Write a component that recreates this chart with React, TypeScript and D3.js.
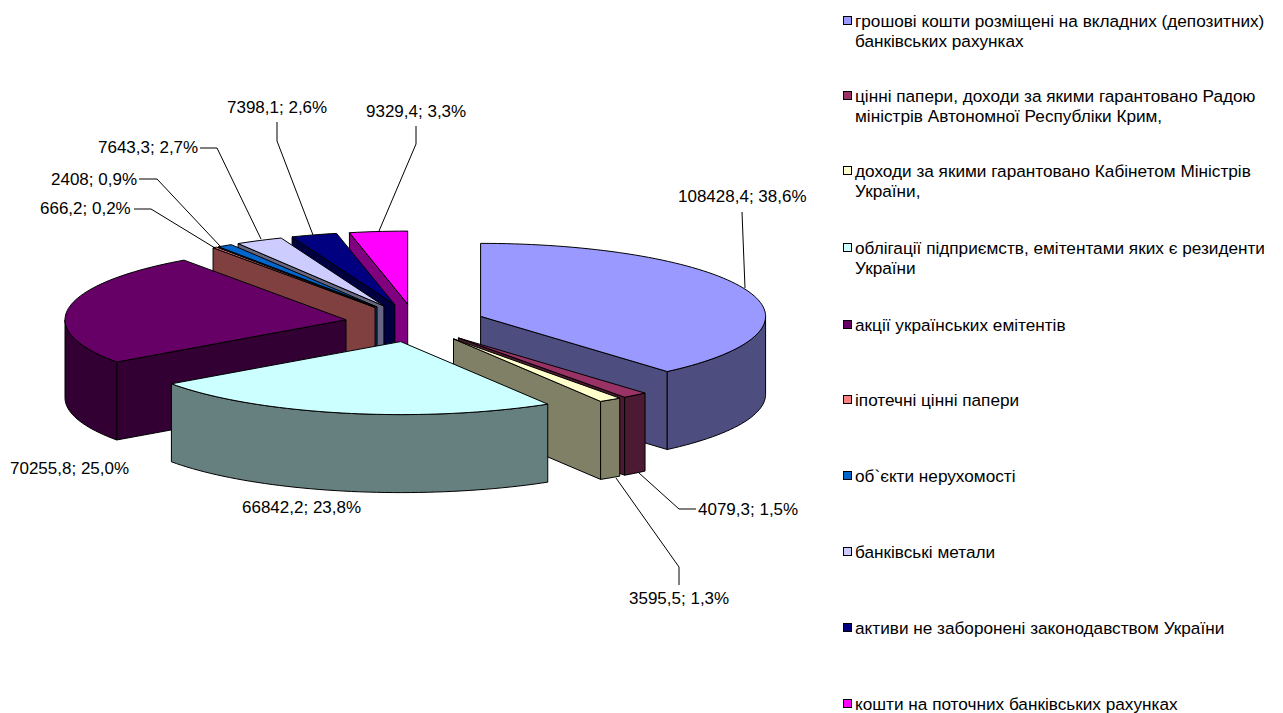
import React from 'react';
import * as d3 from 'd3';

const names = [
  'грошові кошти розміщені на вкладних (депозитних)|банківських рахунках',
  'цінні папери, доходи за якими гарантовано Радою|міністрів Автономної Республіки Крим,',
  'доходи за якими гарантовано Кабінетом Міністрів|України,',
  'облігації підприємств, емітентами яких є резиденти|України',
  'акції українських емітентів',
  'іпотечні цінні папери',
  'об`єкти нерухомості',
  'банківські метали',
  'активи не заборонені законодавством України',
  'кошти на поточних банківських рахунках',
];
const values = [108428.4, 4079.3, 3595.5, 66842.2, 70255.8, 666.2, 2408, 7643.3, 7398.1, 9329.4];
const valueLabels = ['108428,4', '4079,3', '3595,5', '66842,2', '70255,8', '666,2', '2408', '7643,3', '7398,1', '9329,4'];
const percentLabels = ['38,6%', '1,5%', '1,3%', '23,8%', '25,0%', '0,2%', '0,9%', '2,7%', '2,6%', '3,3%'];
const topColors = ['#9999FF', '#993366', '#FFFFCC', '#CCFFFF', '#660066', '#FF8080', '#0066CC', '#CCCCFF', '#000080', '#FF00FF'];
const wallColors = ['#4D4D80', '#4D1A33', '#808066', '#668080', '#330033', '#804040', '#003366', '#666680', '#000040', '#800080'];
const drawOrder = [9, 8, 7, 6, 5, 4, 0, 1, 2, 3];

// label layout
const labelX = [678, 698, 629, 242, 10, 40, 51, 98, 227, 366];
const labelY = [196, 509, 598, 507, 468, 208, 179, 147, 107, 111];
const leaders: (number[][] | null)[] = [
  [[742, 212], [745, 288]],
  [[696, 509], [679, 509], [639, 473]],
  [[679, 585], [679, 567], [616, 478]],
  null,
  null,
  [[134, 209], [151, 209], [215, 248]],
  [[139, 179], [157, 179], [220, 246]],
  [[200, 148], [217, 148], [261, 239]],
  [[277, 122], [277, 141], [313, 235]],
  [[416, 126], [416, 144], [379, 231]],
];
const legendTextY = [21, 96, 171, 248, 325, 400, 476, 552, 628, 704];

const W = 1283, H = 713;
const cx = 415, cy = 323, rxRight = 285, rxLeft = 281, ry = 73, depth = 78, explodeX = 70, explodeY = 19;
const FONT = '"Liberation Sans", Arial, sans-serif';

const arcs = d3.pie<number>().sort(null).startAngle(0).endAngle(2 * Math.PI)(values);
const line = d3.line<[number, number]>();

function rim(apex: [number, number], a: number, dy = 0): [number, number] {
  const s = Math.sin(a);
  return [apex[0] + (s >= 0 ? rxRight : rxLeft) * s, apex[1] - ry * Math.cos(a) + dy];
}

function outline(apex: [number, number], a0: number, a1: number, dy = 0): [number, number][] {
  const n = Math.max(2, Math.ceil((a1 - a0) / 0.03));
  return d3.range(n + 1).map((i) => rim(apex, a0 + ((a1 - a0) * i) / n, dy));
}

function quad(apex: [number, number], a: number): string {
  const p = rim(apex, a);
  return line([apex, p, [p[0], p[1] + depth], [apex[0], apex[1] + depth]])! + 'Z';
}

function Slice({ i }: { i: number }) {
  const { startAngle: a0, endAngle: a1 } = arcs[i];
  const mid = (a0 + a1) / 2;
  const apex: [number, number] = [cx + explodeX * Math.sin(mid), cy - explodeY * Math.cos(mid)];
  const common = { stroke: '#000', strokeWidth: 1, strokeLinejoin: 'round' as const };
  const f0 = Math.max(a0, Math.PI / 2), f1 = Math.min(a1, (3 * Math.PI) / 2);
  const walls: string[] = [];
  if (Math.sin(a0) < -1e-6) walls.push(quad(apex, a0));
  if (Math.sin(a1) > 1e-6) walls.push(quad(apex, a1));
  if (f1 > f0) {
    const top = outline(apex, f0, f1);
    const bottom = outline(apex, f0, f1, depth).reverse();
    walls.push(line([...top, ...bottom])! + 'Z');
  }
  const topPath = line([apex, ...outline(apex, a0, a1)])! + 'Z';
  return (
    <g>
      {walls.map((d, k) => <path key={k} d={d} fill={wallColors[i]} {...common} />)}
      <path d={topPath} fill={topColors[i]} {...common} />
    </g>
  );
}

export default function App() {
  return (
    <svg width={W} height={H} viewBox={`0 0 ${W} ${H}`} style={{ position: 'absolute', left: 0, top: 0, display: 'block', background: '#fff' }}>
      {drawOrder.map((i) => <Slice key={i} i={i} />)}
      {leaders.map((pts, i) => pts && (
        <path key={i} d={line(pts as [number, number][])!} fill="none" stroke="#000" strokeWidth={1} />
      ))}
      {values.map((_, i) => (
        <text key={i} x={labelX[i]} y={labelY[i]} dy="0.35em" fontFamily={FONT} fontSize={17} fill="#000">
          {`${valueLabels[i]}; ${percentLabels[i]}`}
        </text>
      ))}
      {names.map((n, i) => {
        const lines = n.split('|');
        return (
          <g key={i}>
            <rect x={843.5} y={legendTextY[i] - 4.5} width={8} height={8} fill={topColors[i]} stroke="#000" strokeWidth={1} />
            {lines.map((t, k) => (
              <text key={k} x={855} y={legendTextY[i] + k * 20} dy="0.35em" fontFamily={FONT} fontSize={17.2} fill="#000">{t}</text>
            ))}
          </g>
        );
      })}
    </svg>
  );
}
